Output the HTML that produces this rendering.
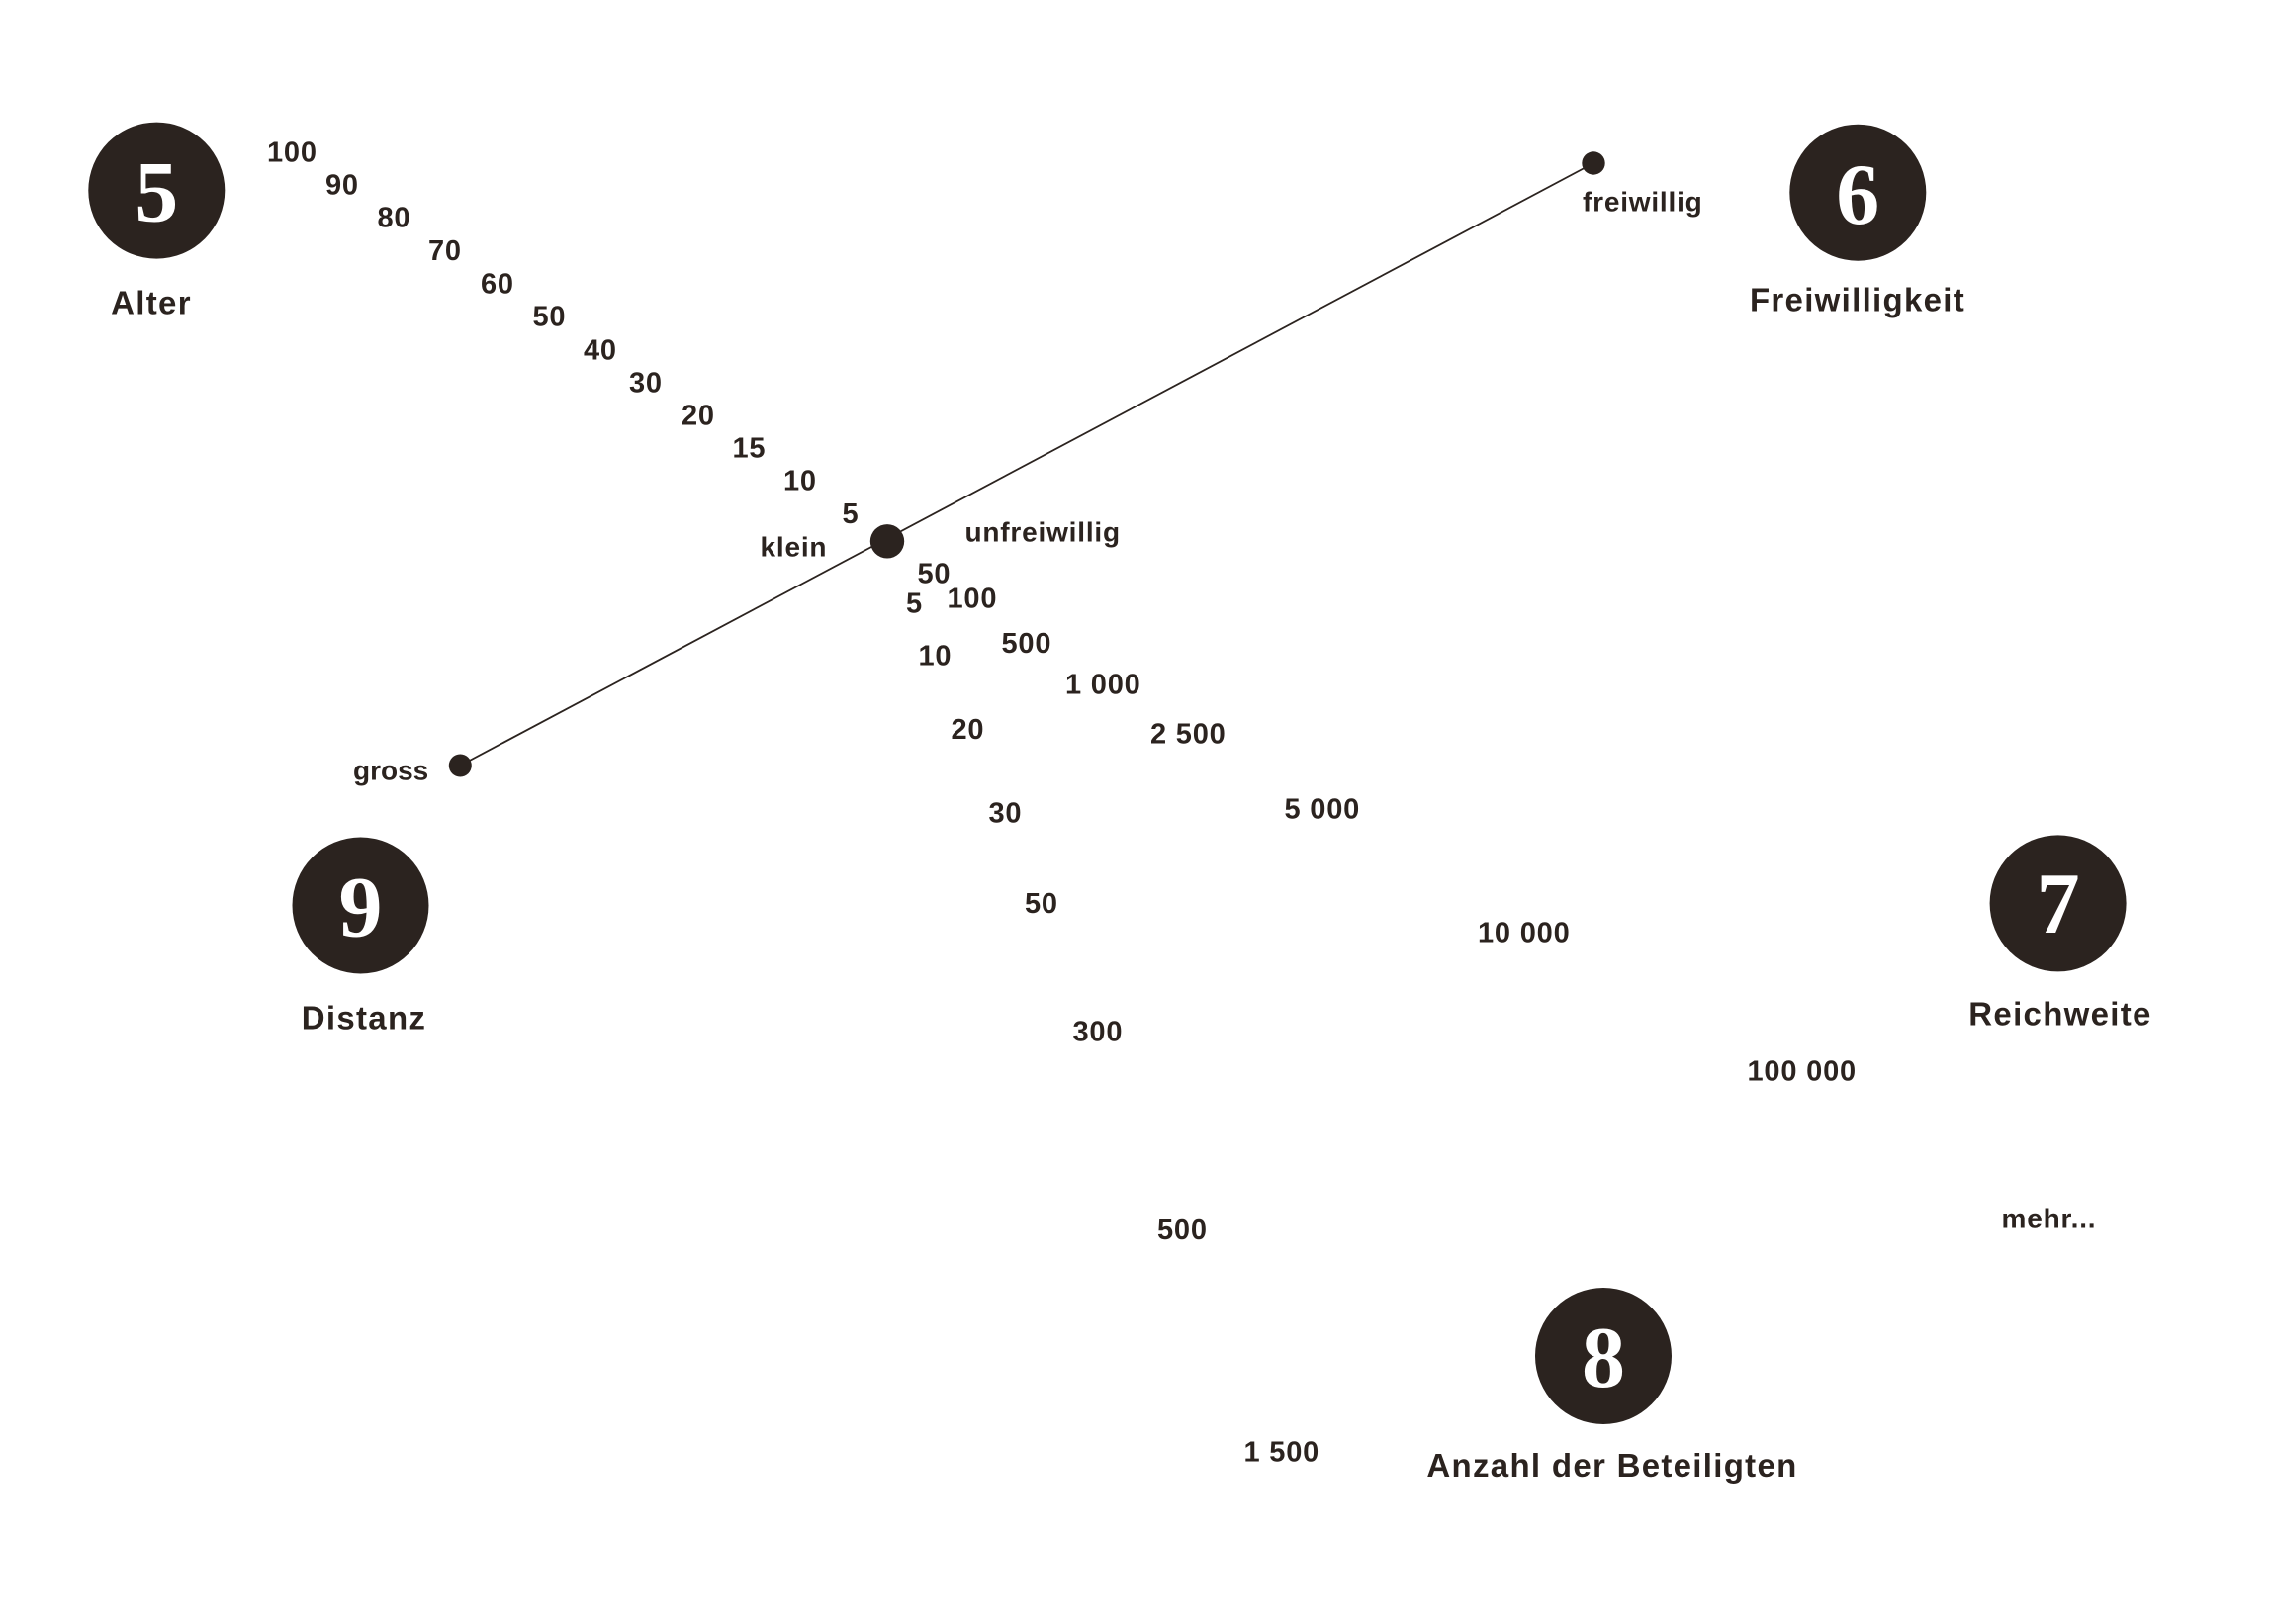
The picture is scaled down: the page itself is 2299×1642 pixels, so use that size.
<!DOCTYPE html>
<html>
<head>
<meta charset="utf-8">
<style>
  html, body { margin:0; padding:0; background:#ffffff; }
  svg { display:block; }
  .n { font-family:"Liberation Sans", Arial, sans-serif; font-weight:bold; font-size:29px; letter-spacing:0.8px; fill:#2b231f; }
  .w { font-family:"Liberation Sans", Arial, sans-serif; font-weight:bold; font-size:28px; letter-spacing:0.8px; fill:#2b231f; }
  .t { font-family:"Liberation Sans", Arial, sans-serif; font-weight:bold; font-size:33px; letter-spacing:1.3px; fill:#2b231f; text-anchor:middle; }
  .c { font-family:"Liberation Serif", "DejaVu Serif", serif; font-weight:bold; font-size:88px; fill:#ffffff; text-anchor:middle; }
</style>
</head>
<body>
<svg width="2299" height="1642" viewBox="0 0 2299 1642" xmlns="http://www.w3.org/2000/svg">
  <rect x="0" y="0" width="2299" height="1642" fill="#ffffff"/>

  <!-- connector line -->
  <line x1="465.3" y1="774" x2="1611" y2="165" stroke="#2b231f" stroke-width="1.8"/>
  <circle cx="465.3" cy="774" r="11.5" fill="#2b231f"/>
  <circle cx="1611" cy="165" r="11.7" fill="#2b231f"/>
  <circle cx="897" cy="547.3" r="17.2" fill="#2b231f"/>

  <!-- big numbered circles -->
  <circle cx="158.3" cy="192.6" r="69" fill="#2b231f"/>
  <text class="c" x="158.3" y="223.6">5</text>
  <circle cx="1878.3" cy="194.7" r="69" fill="#2b231f"/>
  <text class="c" x="1878.3" y="226">6</text>
  <circle cx="2080.6" cy="913.4" r="69" fill="#2b231f"/>
  <text class="c" x="2080.6" y="943">7</text>
  <circle cx="1621" cy="1371" r="69" fill="#2b231f"/>
  <text class="c" x="1621" y="1402">8</text>
  <circle cx="364.5" cy="915.5" r="69" fill="#2b231f"/>
  <text class="c" x="364.5" y="946.5">9</text>

  <!-- titles -->
  <text class="t" x="153" y="317.4">Alter</text>
  <text class="t" x="1878" y="314.3">Freiwilligkeit</text>
  <text class="t" x="2083" y="1036.5">Reichweite</text>
  <text class="t" x="1630" y="1493.1">Anzahl der Beteiligten</text>
  <text class="t" x="368" y="1040.7">Distanz</text>

  <!-- Alter scale -->
  <text class="n" x="270" y="163.5">100</text>
  <text class="n" x="329" y="196.4">90</text>
  <text class="n" x="381.5" y="229.4">80</text>
  <text class="n" x="433" y="263">70</text>
  <text class="n" x="486" y="296.3">60</text>
  <text class="n" x="538.5" y="329.6">50</text>
  <text class="n" x="590" y="363.3">40</text>
  <text class="n" x="636" y="396.6">30</text>
  <text class="n" x="689" y="429.5">20</text>
  <text class="n" x="740.5" y="462.4">15</text>
  <text class="n" x="792" y="495.7">10</text>
  <text class="n" x="851.5" y="529">5</text>

  <!-- word labels -->
  <text class="w" x="768.5" y="562.6">klein</text>
  <text class="w" x="975.5" y="547.3">unfreiwillig</text>
  <text class="w" x="1600" y="213.3">freiwillig</text>
  <text class="w" x="357" y="788.3" style="letter-spacing:0px">gross</text>
  <text class="w" x="2023.5" y="1241.7">mehr...</text>

  <!-- Distanz scale -->
  <text class="n" x="916" y="619.3">5</text>
  <text class="n" x="928.5" y="672.5">10</text>
  <text class="n" x="961.5" y="747.1">20</text>
  <text class="n" x="999.5" y="831.7">30</text>
  <text class="n" x="1036" y="922.8">50</text>
  <text class="n" x="1084.5" y="1052.3">300</text>
  <text class="n" x="1170" y="1253.1">500</text>
  <text class="n" x="1257.5" y="1477.6">1 500</text>

  <!-- Reichweite scale -->
  <text class="n" x="927.5" y="589.4">50</text>
  <text class="n" x="957.5" y="614.3">100</text>
  <text class="n" x="1012.5" y="660.2">500</text>
  <text class="n" x="1077" y="701.6">1 000</text>
  <text class="n" x="1163" y="751.3">2 500</text>
  <text class="n" x="1298.5" y="827.7">5 000</text>
  <text class="n" x="1494" y="952.3">10 000</text>
  <text class="n" x="1766.5" y="1092.7">100 000</text>
</svg>
</body>
</html>
